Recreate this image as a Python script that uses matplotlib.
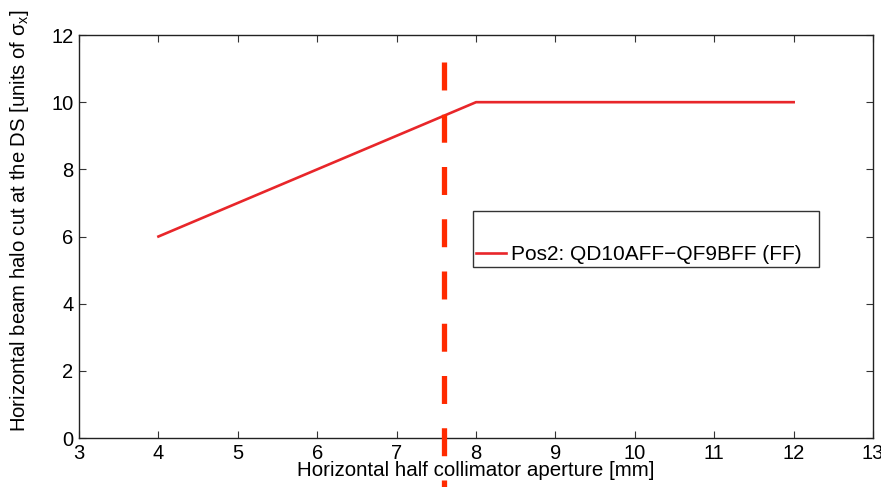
import numpy as np
import matplotlib.pyplot as plt
from matplotlib.lines import Line2D

# donnees
aperture = [4, 5, 6, 7, 8, 9, 10, 11, 12]
halo_cut = [6, 7, 8, 9, 10, 10, 10, 10, 10]
series_label = "Pos2: QD10AFF\u2212QF9BFF (FF)"
x_cut = 7.6

plt.rcParams['font.family'] = ['Liberation Sans', 'DejaVu Sans']
plt.rcParams['mathtext.fontset'] = 'custom'
plt.rcParams['mathtext.rm'] = 'Liberation Sans'
plt.rcParams['mathtext.it'] = 'Liberation Sans:italic'

fig = plt.figure(figsize=(8.81, 4.87), dpi=100)
ax = fig.add_axes([0.0897, 0.1006, 0.9013, 0.8275])

line, = ax.plot(aperture, halo_cut, color="#e8262a", lw=1.9)

# ligne verticale en tirets, qui deborde des axes
ax.plot([x_cut, x_cut], [11.2, -1.7], color="#ff2a00", lw=3.8,
        dashes=(5.3, 4.6), clip_on=False, zorder=5)

ax.set_xlim(3, 13)
ax.set_ylim(0, 12)
ax.set_xticks(range(3, 14))
ax.set_yticks(range(0, 13, 2))
ax.tick_params(direction="in", top=True, right=True, length=5,
               labelsize=14.5, pad=4, width=0.8, color="#333333")
for s in ax.spines.values():
    s.set_linewidth(1.0)
    s.set_color("#222222")

ax.set_xlabel("Horizontal half collimator aperture [mm]", fontsize=14.8, labelpad=-1)
ax.set_ylabel(r"Horizontal beam halo cut at the DS [units of $\mathregular{\sigma_x}$]",
              fontsize=14.6)
ax.yaxis.set_label_coords(-0.061, 0.54)

empty = Line2D([], [], color="none")
leg = ax.legend([empty, line], [" ", series_label], loc="lower left",
                bbox_to_anchor=(0.496, 0.424, 0.436, 0.146), mode="expand",
                fontsize=15, frameon=True, fancybox=False, handlelength=1.45,
                handletextpad=0.25, borderaxespad=0, labelspacing=0.55,
                borderpad=0.15)
leg.get_frame().set_edgecolor("black")
leg.get_frame().set_linewidth(1.0)

fig.savefig("out.png", dpi=100)
